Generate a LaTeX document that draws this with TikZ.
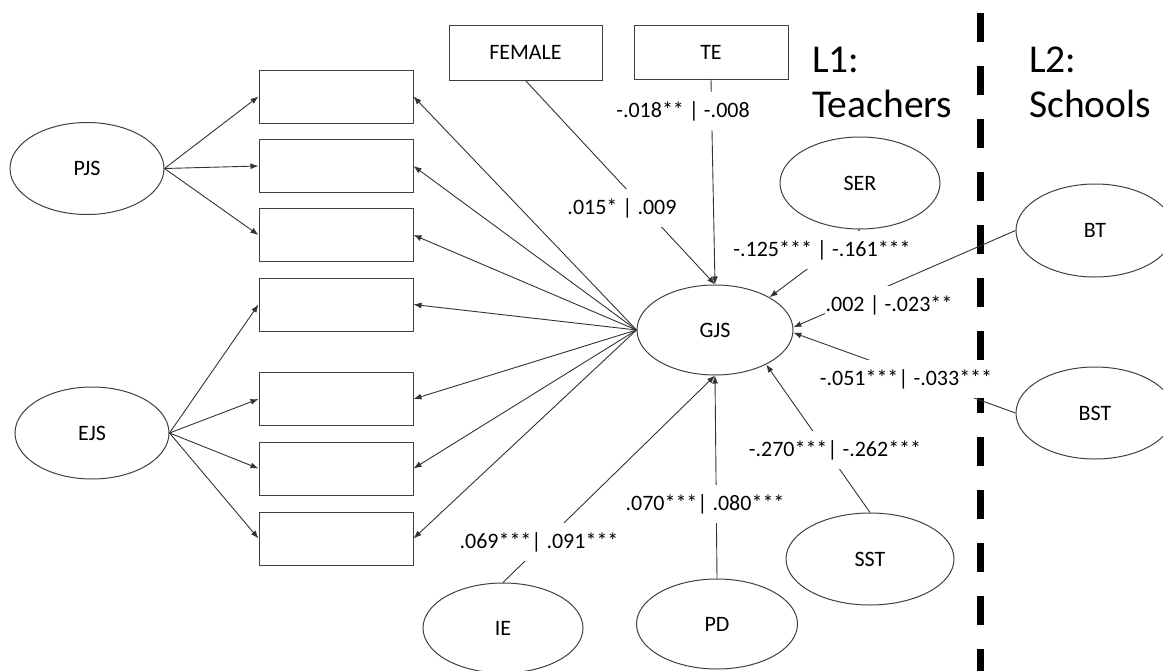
\documentclass[tikz,border=0pt]{standalone}
\usepackage{fontspec}
\setmainfont{Carlito}
\usetikzlibrary{shapes.geometric,arrows.meta}
\begin{document}
\begin{tikzpicture}[x=1pt,y=-1pt,
  every node/.style={font=\fontsize{22}{26}\selectfont},
  lat/.style={ellipse,draw=black!75,line width=1pt,inner sep=0pt},
  obs/.style={rectangle,draw=black!75,line width=1pt,inner sep=0pt,minimum width=154pt,minimum height=53pt},
  conn/.style={draw=black!80,line width=0.9pt,-{Latex[length=8pt,width=6pt]}},
  coef/.style={fill=white,inner xsep=1pt,inner ysep=0pt,minimum height=38pt},
  big/.style={font=\fontsize{39.5}{45}\selectfont,align=left,inner sep=0pt}]
\useasboundingbox (0,0) rectangle (1163,670);
% level divider
\draw[line width=7pt, dash pattern=on 29pt off 24pt] (980,13) -- (980,680);
% observed indicators
\node[obs] (r1) at (336,96.5) {};
\node[obs] (r2) at (336,166) {};
\node[obs] (r3) at (336,235) {};
\node[obs] (r4) at (336,304.5) {};
\node[obs] (r5) at (336,399) {};
\node[obs] (r6) at (336,468.5) {};
\node[obs] (r7) at (336,538.5) {};
% latent variables
\node[lat,minimum width=154pt,minimum height=92pt] (PJS) at (87,168.5) {PJS};
\node[lat,minimum width=154pt,minimum height=92pt] (EJS) at (92,433) {EJS};
\node[lat,minimum width=156pt,minimum height=90pt] (GJS) at (715,330) {GJS};
\node[lat,minimum width=160pt,minimum height=92pt] (SER) at (860,183) {SER};
\node[lat,minimum width=158pt,minimum height=93pt] (BT) at (1095,230.5) {BT};
\node[lat,minimum width=158pt,minimum height=92pt] (BST) at (1095,413) {BST};
\node[lat,minimum width=168pt,minimum height=92pt] (SST) at (870,559) {SST};
\node[lat,minimum width=161pt,minimum height=90pt] (PD) at (717,624) {PD};
\node[lat,minimum width=160pt,minimum height=90pt] (IE) at (503,628) {IE};
% covariate boxes
\node[obs,minimum width=153pt,minimum height=55pt] (FEMALE) at (525.5,52.5) {FEMALE};
\node[obs,minimum width=154pt,minimum height=54pt] (TE) at (711,52) {TE};
% level titles
\node[big,anchor=north west] (L1) at (812,47) {L1:\\Teachers};
\node[big,anchor=north west] (L2) at (1029,47) {L2:\\Schools};
% measurement arrows
\foreach \r in {r1,r2,r3} \draw[conn] (PJS.east) -- (\r.west);
\foreach \r in {r4,r5,r6,r7} \draw[conn] (EJS.east) -- (\r.west);
\foreach \r in {r1,r2,r3,r4,r5,r6,r7} \draw[conn] (GJS.west) -- (\r.east);
% structural arrows
\draw[conn] (FEMALE.south) -- (GJS.north);
\draw[conn] (TE.south) -- (GJS.north);
\draw[conn] (SER.south) -- (GJS.31);
\draw[conn] (BT.west) -- (GJS.2);
\draw[conn] (BST.west) -- (GJS.-2);
\draw[conn] (SST.north) -- (GJS.-34);
\draw[conn] (PD.north) -- (GJS.south);
\draw[conn] (IE.north) -- (GJS.south);
% coefficients
\node[coef] (cF) at (622,208) {.015* | .009};
\node[coef] (cT) at (683,111) {-.018** | -.008};
\node[coef] (cS) at (822,250) {-.125*** | -.161***};
\node[coef] (cB) at (889,305) {.002 | -.023**};
\node[coef] (cBS) at (906,379) {-.051***| -.033***};
\node[coef] (cSS) at (835,450) {-.270***| -.262***};
\node[coef] (cP) at (705,504) {.070***| .080***};
\node[coef] (cI) at (539,542) {.069***| .091***};
\end{tikzpicture}
\end{document}
